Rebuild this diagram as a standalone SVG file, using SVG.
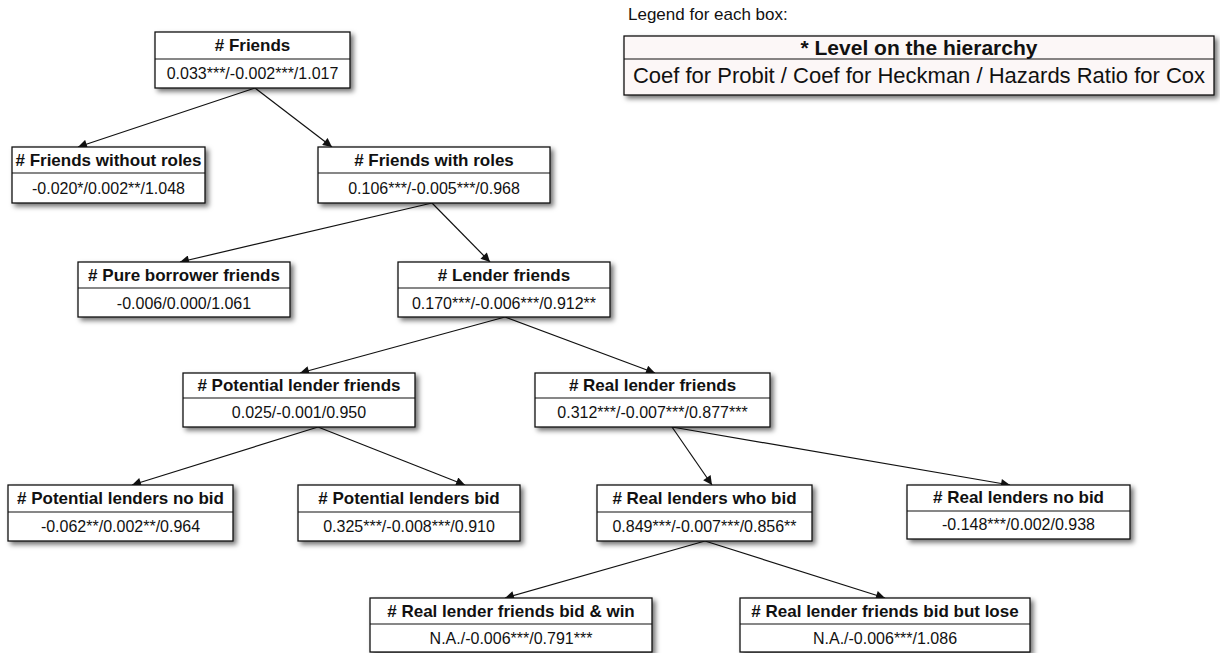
<svg xmlns="http://www.w3.org/2000/svg" width="1220" height="653" viewBox="0 0 1220 653">
<defs>
<filter id="sh" x="-10%" y="-20%" width="125%" height="160%">
<feDropShadow dx="3" dy="3" stdDeviation="2.5" flood-color="#000" flood-opacity="0.55"/>
</filter>
<marker id="ah" viewBox="0 0 10 10" refX="10" refY="5" markerWidth="11" markerHeight="9" markerUnits="userSpaceOnUse" orient="auto">
<path d="M0,0 L10,5 L0,10 z" fill="#111"/>
</marker>
<style>
.box{fill:#fff;stroke:#111;stroke-width:1.3;filter:url(#sh)}
.div{stroke:#111;stroke-width:1.2}
.t{font-family:"Liberation Sans",Arial,sans-serif;font-size:17px;font-weight:bold;fill:#111;text-anchor:middle}
.v{font-family:"Liberation Sans",Arial,sans-serif;font-size:16px;fill:#111;text-anchor:middle}
.c{stroke:#111;stroke-width:1.2;fill:none;marker-end:url(#ah)}
</style>
</defs>
<rect width="1220" height="653" fill="#fff"/>
<g id="connectors">
<line class="c" x1="255" y1="88" x2="78" y2="147"/>
<line class="c" x1="255" y1="88" x2="332" y2="147"/>
<line class="c" x1="432" y1="203" x2="180" y2="262"/>
<line class="c" x1="432" y1="203" x2="490" y2="262"/>
<line class="c" x1="505" y1="317" x2="300" y2="373"/>
<line class="c" x1="505" y1="317" x2="655" y2="373"/>
<line class="c" x1="318" y1="427" x2="132" y2="485"/>
<line class="c" x1="318" y1="427" x2="465" y2="485"/>
<line class="c" x1="672" y1="427" x2="712" y2="485"/>
<line class="c" x1="672" y1="427" x2="1010" y2="485"/>
<line class="c" x1="705" y1="541" x2="505" y2="598"/>
<line class="c" x1="705" y1="541" x2="885" y2="598"/>
</g>
<g id="legend">
<text x="628" y="20" font-family="Liberation Sans,Arial,sans-serif" font-size="17" fill="#111">Legend for each box:</text>
<rect x="624" y="36" width="590" height="59" fill="#fcf7f7" stroke="#111" stroke-width="1.3" filter="url(#sh)"/>
<line class="div" x1="624" y1="59" x2="1214" y2="59"/>
<text x="919" y="55" font-family="Liberation Sans,Arial,sans-serif" font-size="21" font-weight="bold" fill="#111" text-anchor="middle">* Level on the hierarchy</text>
<text x="919" y="83" font-family="Liberation Sans,Arial,sans-serif" font-size="22" fill="#111" text-anchor="middle">Coef for Probit / Coef for Heckman / Hazards Ratio for Cox</text>
</g>
<g id="n-friends">
<rect class="box" x="155" y="32" width="195" height="56"/>
<line class="div" x1="155" y1="59" x2="350" y2="59"/>
<text class="t" x="252.5" y="51"># Friends</text>
<text class="v" x="252.5" y="79">0.033***/-0.002***/1.017</text>
</g>
<g id="n-without-roles">
<rect class="box" x="12" y="147" width="193" height="56"/>
<line class="div" x1="12" y1="173" x2="205" y2="173"/>
<text class="t" x="108.5" y="166"># Friends without roles</text>
<text class="v" x="108.5" y="194">-0.020*/0.002**/1.048</text>
</g>
<g id="n-with-roles">
<rect class="box" x="318" y="147" width="232" height="56"/>
<line class="div" x1="318" y1="173" x2="550" y2="173"/>
<text class="t" x="434" y="166"># Friends with roles</text>
<text class="v" x="434" y="194">0.106***/-0.005***/0.968</text>
</g>
<g id="n-pure-borrower">
<rect class="box" x="78" y="262" width="212" height="55"/>
<line class="div" x1="78" y1="288" x2="290" y2="288"/>
<text class="t" x="184" y="281"># Pure borrower friends</text>
<text class="v" x="184" y="309">-0.006/0.000/1.061</text>
</g>
<g id="n-lender">
<rect class="box" x="398" y="262" width="212" height="55"/>
<line class="div" x1="398" y1="288" x2="610" y2="288"/>
<text class="t" x="504" y="281"># Lender friends</text>
<text class="v" x="504" y="309">0.170***/-0.006***/0.912**</text>
</g>
<g id="n-potential-lender">
<rect class="box" x="183" y="373" width="232" height="54"/>
<line class="div" x1="183" y1="398" x2="415" y2="398"/>
<text class="t" x="299" y="391"># Potential lender friends</text>
<text class="v" x="299" y="418">0.025/-0.001/0.950</text>
</g>
<g id="n-real-lender">
<rect class="box" x="535" y="373" width="235" height="54"/>
<line class="div" x1="535" y1="398" x2="770" y2="398"/>
<text class="t" x="652.5" y="391"># Real lender friends</text>
<text class="v" x="652.5" y="418">0.312***/-0.007***/0.877***</text>
</g>
<g id="n-pot-no-bid">
<rect class="box" x="8" y="485" width="225" height="56"/>
<line class="div" x1="8" y1="512" x2="233" y2="512"/>
<text class="t" x="120.5" y="504"># Potential lenders no bid</text>
<text class="v" x="120.5" y="532">-0.062**/0.002**/0.964</text>
</g>
<g id="n-pot-bid">
<rect class="box" x="298" y="485" width="222" height="56"/>
<line class="div" x1="298" y1="512" x2="520" y2="512"/>
<text class="t" x="409" y="504"># Potential lenders bid</text>
<text class="v" x="409" y="532">0.325***/-0.008***/0.910</text>
</g>
<g id="n-real-who-bid">
<rect class="box" x="597" y="485" width="215" height="56"/>
<line class="div" x1="597" y1="512" x2="812" y2="512"/>
<text class="t" x="704.5" y="504"># Real lenders who bid</text>
<text class="v" x="704.5" y="532">0.849***/-0.007***/0.856**</text>
</g>
<g id="n-real-no-bid">
<rect class="box" x="907" y="485" width="223" height="54"/>
<line class="div" x1="907" y1="511" x2="1130" y2="511"/>
<text class="t" x="1018.5" y="503"># Real lenders no bid</text>
<text class="v" x="1018.5" y="530">-0.148***/0.002/0.938</text>
</g>
<g id="n-bid-win">
<rect class="box" x="370" y="598" width="282" height="54"/>
<line class="div" x1="370" y1="624" x2="652" y2="624"/>
<text class="t" x="511" y="617"># Real lender friends bid &amp; win</text>
<text class="v" x="511" y="644">N.A./-0.006***/0.791***</text>
</g>
<g id="n-bid-lose">
<rect class="box" x="740" y="598" width="290" height="54"/>
<line class="div" x1="740" y1="624" x2="1030" y2="624"/>
<text class="t" x="885" y="617"># Real lender friends bid but lose</text>
<text class="v" x="885" y="644">N.A./-0.006***/1.086</text>
</g>
</svg>
